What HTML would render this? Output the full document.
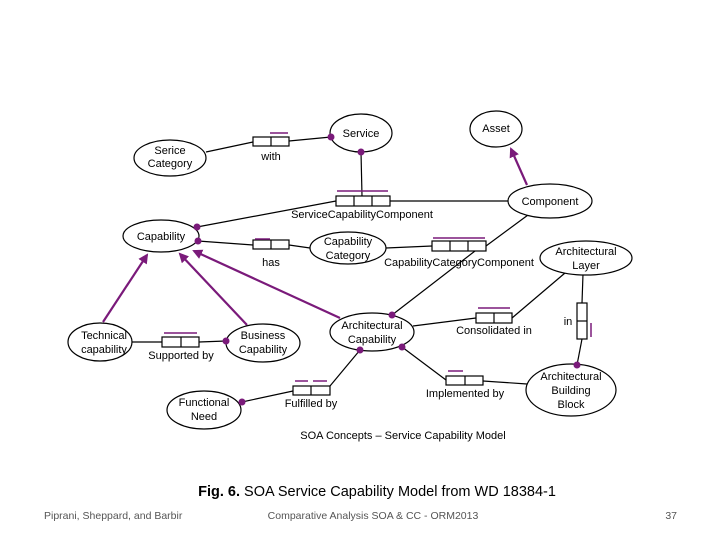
<!DOCTYPE html>
<html><head><style>
body{margin:0;background:#fff;width:720px;height:540px;overflow:hidden;font-family:"Liberation Sans",sans-serif}
</style></head><body>
<svg width="720" height="540" viewBox="0 0 720 540" xmlns="http://www.w3.org/2000/svg">
<defs><marker id="ah" markerWidth="10" markerHeight="10" refX="8" refY="5" orient="auto" markerUnits="userSpaceOnUse"><path d="M0,0 L10,5 L0,10 z" fill="#7a1a7a"/></marker></defs>
<g fill="none" stroke="#000" stroke-width="1.2">
<line x1="206" y1="152" x2="253" y2="142"/><line x1="289" y1="141" x2="331" y2="137"/>
<line x1="361" y1="152" x2="362" y2="196"/>
<line x1="336" y1="201" x2="197" y2="227"/><line x1="390" y1="201" x2="508" y2="201"/>
<line x1="198" y1="241" x2="253" y2="245"/><line x1="289" y1="245" x2="310" y2="248"/>
<line x1="386" y1="248" x2="432" y2="246"/><line x1="486" y1="246" x2="528" y2="215"/>
<line x1="392" y1="315" x2="475" y2="251"/>
<line x1="413" y1="326" x2="476" y2="318"/><line x1="512" y1="318" x2="565" y2="273"/>
<line x1="583" y1="274" x2="582" y2="303"/><line x1="582" y1="339" x2="577" y2="365"/>
<line x1="402" y1="347" x2="446" y2="380"/><line x1="483" y1="381" x2="527" y2="384"/>
<line x1="360" y1="350" x2="330" y2="386"/><line x1="293" y1="391" x2="242" y2="402"/>
<line x1="132" y1="342" x2="162" y2="342"/><line x1="199" y1="342" x2="226" y2="341"/>
</g>
<g stroke="#7a1a7a" stroke-width="2.2" fill="none">
<line x1="103" y1="322" x2="147" y2="255" marker-end="url(#ah)"/>
<line x1="247" y1="325" x2="180" y2="254" marker-end="url(#ah)"/>
<line x1="340" y1="318" x2="194" y2="251" marker-end="url(#ah)"/>
<line x1="527" y1="185" x2="511" y2="149" marker-end="url(#ah)"/>
</g>
<g fill="#fff" stroke="#000" stroke-width="1.2">
<ellipse cx="170" cy="158" rx="36" ry="18"/>
<ellipse cx="361" cy="133" rx="31" ry="19"/>
<ellipse cx="496" cy="129" rx="26" ry="18"/>
<ellipse cx="550" cy="201" rx="42" ry="17"/>
<ellipse cx="161" cy="236" rx="38" ry="16"/>
<ellipse cx="348" cy="248" rx="38" ry="16"/>
<ellipse cx="586" cy="258" rx="46" ry="17"/>
<ellipse cx="100" cy="342" rx="32" ry="19"/>
<ellipse cx="263" cy="343" rx="37" ry="19"/>
<ellipse cx="372" cy="332" rx="42" ry="19"/>
<ellipse cx="204" cy="410" rx="37" ry="19"/>
<ellipse cx="571" cy="390" rx="45" ry="26"/>
<rect x="253" y="137" width="36" height="9"/><line x1="271" y1="137" x2="271" y2="146"/>
<rect x="253" y="240" width="36" height="9"/><line x1="271" y1="240" x2="271" y2="249"/>
<rect x="336" y="196" width="54" height="10"/><line x1="354" y1="196" x2="354" y2="206"/><line x1="372" y1="196" x2="372" y2="206"/>
<rect x="432" y="241" width="54" height="10"/><line x1="450" y1="241" x2="450" y2="251"/><line x1="468" y1="241" x2="468" y2="251"/>
<rect x="476" y="313" width="36" height="10"/><line x1="494" y1="313" x2="494" y2="323"/>
<rect x="577" y="303" width="10" height="36"/><line x1="577" y1="321" x2="587" y2="321"/>
<rect x="446" y="376" width="37" height="9"/><line x1="465" y1="376" x2="465" y2="385"/>
<rect x="293" y="386" width="37" height="9"/><line x1="311" y1="386" x2="311" y2="395"/>
<rect x="162" y="337" width="37" height="10"/><line x1="181" y1="337" x2="181" y2="347"/>
</g>
<g stroke="#7a1a7a" stroke-width="1.5">
<line x1="270" y1="133" x2="288" y2="133"/>
<line x1="255" y1="239" x2="270" y2="239"/>
<line x1="337" y1="191" x2="388" y2="191"/>
<line x1="433" y1="238" x2="485" y2="238"/>
<line x1="478" y1="308" x2="510" y2="308"/>
<line x1="591" y1="323" x2="591" y2="337"/>
<line x1="448" y1="371" x2="463" y2="371"/>
<line x1="295" y1="381" x2="308" y2="381"/><line x1="313" y1="381" x2="327" y2="381"/>
<line x1="164" y1="333" x2="197" y2="333"/>
</g>
<g fill="#7a1a7a">
<circle cx="331" cy="137" r="3.5"/><circle cx="361" cy="152" r="3.5"/>
<circle cx="197" cy="227" r="3.5"/><circle cx="198" cy="241" r="3.5"/>
<circle cx="392" cy="315" r="3.5"/><circle cx="402" cy="347" r="3.5"/><circle cx="360" cy="350" r="3.5"/>
<circle cx="577" cy="365" r="3.5"/><circle cx="242" cy="402" r="3.5"/><circle cx="226" cy="341" r="3.5"/>
</g>
<g font-size="11" text-anchor="middle" fill="#000">
<text x="170" y="154">Serice</text><text x="170" y="167">Category</text>
<text x="361" y="137">Service</text>
<text x="496" y="132">Asset</text>
<text x="550" y="205">Component</text>
<text x="161" y="240">Capability</text>
<text x="348" y="245">Capability</text><text x="348" y="259">Category</text>
<text x="586" y="255">Architectural</text><text x="586" y="269">Layer</text>
<text x="104" y="339">Technical</text><text x="104" y="353">capability</text>
<text x="263" y="339">Business</text><text x="263" y="353">Capability</text>
<text x="372" y="329">Architectural</text><text x="372" y="343">Capability</text>
<text x="204" y="406">Functional</text><text x="204" y="420">Need</text>
<text x="571" y="380">Architectural</text><text x="571" y="394">Building</text><text x="571" y="408">Block</text>
<text x="271" y="160">with</text>
<text x="271" y="266">has</text>
<text x="362" y="218">ServiceCapabilityComponent</text>
<text x="459" y="266">CapabilityCategoryComponent</text>
<text x="494" y="334">Consolidated in</text>
<text x="568" y="325">in</text>
<text x="465" y="397">Implemented by</text>
<text x="311" y="407">Fulfilled by</text>
<text x="181" y="359">Supported by</text>
<text x="403" y="439">SOA Concepts – Service Capability Model</text>
</g>
<text x="377" y="496" font-size="14.5" text-anchor="middle"><tspan font-weight="bold">Fig. 6.</tspan> SOA Service Capability Model from WD 18384-1</text>
<g font-size="10.5" fill="#555">
<text x="44" y="519">Piprani, Sheppard, and Barbir</text>
<text x="373" y="519" text-anchor="middle">Comparative Analysis SOA &amp; CC - ORM2013</text>
<text x="677" y="519" text-anchor="end">37</text>
</g>
</svg>
</body></html>
